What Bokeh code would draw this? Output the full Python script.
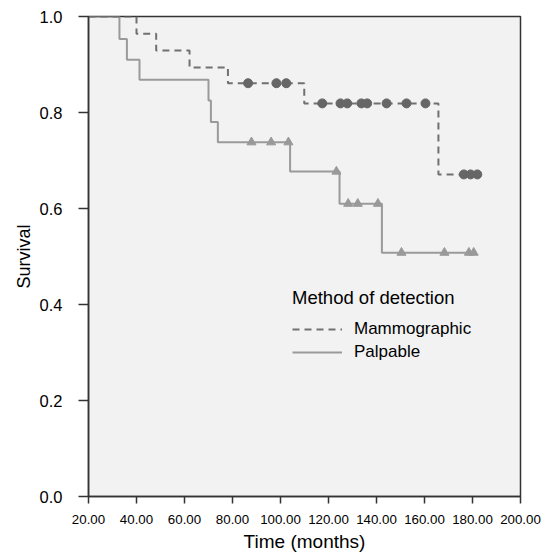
from bokeh.plotting import figure
from bokeh.models import (Range1d, FixedTicker, NumeralTickFormatter, Legend, LegendItem)
from bokeh.embed import file_html
from bokeh.resources import INLINE

# ---- data ----
mammo_event_times = [40.0, 48.2, 62.1, 78.1, 109.9, 165.8]
mammo_survival = [0.964, 0.929, 0.894, 0.861, 0.819, 0.671]
mammo_censor_times = [86.5, 98.3, 102.4, 117.4, 125.0, 127.8, 133.7, 136.1,
                      144.2, 152.5, 160.4, 176.4, 179.2, 182.0]

palp_event_times = [32.9, 36.0, 41.25, 70.0, 71.0, 73.9, 104.0, 124.6, 142.25]
palp_survival = [0.953, 0.910, 0.868, 0.825, 0.780, 0.738, 0.677, 0.610, 0.508]
palp_censor_times = [87.9, 96.1, 103.3, 123.3, 128.2, 132.2, 140.6, 150.4,
                     168.3, 178.5, 180.5]

x_ticks = [20, 40, 60, 80, 100, 120, 140, 160, 180, 200]
y_ticks = [0.0, 0.2, 0.4, 0.6, 0.8, 1.0]

FONT = "Liberation Sans"


def step_path(times, surv, censors):
    xs = [0.0]
    ys = [1.0]
    level = 1.0
    for t, s in zip(times, surv):
        xs += [t, t]
        ys += [level, s]
        level = s
    end = max(list(times) + list(censors))
    xs.append(end)
    ys.append(level)
    return xs, ys


def level_at(times, surv, t):
    level = 1.0
    for et, s in zip(times, surv):
        if et <= t:
            level = s
    return level


p = figure(frame_width=432, frame_height=480,
           x_range=Range1d(20, 200), y_range=Range1d(0, 1),
           output_backend="svg", toolbar_location=None,
           min_border_left=88, min_border_top=16, min_border_right=23,
           min_border_bottom=48)

p.background_fill_color = "#f2f2f2"
p.border_fill_color = "white"
p.outline_line_color = "#333333"
p.outline_line_width = 1.5
p.xgrid.visible = False
p.ygrid.visible = False

mx, my = step_path(mammo_event_times, mammo_survival, mammo_censor_times)
px, py = step_path(palp_event_times, palp_survival, palp_censor_times)

r_palp = p.line(px, py, line_color="#9a9a9a", line_width=2)
r_mammo = p.line(mx, my, line_color="#707070", line_width=2, line_dash="7 5")

mc_y = [level_at(mammo_event_times, mammo_survival, t) for t in mammo_censor_times]
pc_y = [level_at(palp_event_times, palp_survival, t) for t in palp_censor_times]

p.scatter(mammo_censor_times, mc_y, marker="circle", size=9,
          fill_color="#666666", line_color="#666666")
p.scatter(palp_censor_times, pc_y, marker="triangle", size=9,
          fill_color="#999999", line_color="#999999")

# axes
for ax in (p.xaxis[0], p.yaxis[0]):
    ax.axis_line_color = "#333333"
    ax.axis_line_width = 1.5
    ax.major_tick_line_color = "#333333"
    ax.major_tick_line_width = 1.5
    ax.major_tick_in = 0
    ax.minor_tick_line_color = None
    ax.major_label_text_font = FONT
    ax.axis_label_text_font = FONT
    ax.axis_label_text_font_style = "normal"
    ax.major_label_text_color = "black"
    ax.axis_label_text_color = "black"

p.xaxis.ticker = FixedTicker(ticks=x_ticks)
p.xaxis.formatter = NumeralTickFormatter(format="0.00")
p.xaxis.major_tick_out = 7
p.xaxis.major_label_text_font_size = "13.3px"
p.xaxis.major_label_standoff = 11
p.xaxis.axis_label = "Time (months)"
p.xaxis.axis_label_text_font_size = "19px"
p.xaxis.axis_label_standoff = 4

p.yaxis.ticker = FixedTicker(ticks=y_ticks)
p.yaxis.formatter = NumeralTickFormatter(format="0.0")
p.yaxis.major_tick_out = 10
p.yaxis.major_label_text_font_size = "16.5px"
p.yaxis.major_label_standoff = 16
p.yaxis.axis_label = "Survival"
p.yaxis.axis_label_text_font_size = "18px"
p.yaxis.axis_label_standoff = 3

legend = Legend(items=[LegendItem(label="Mammographic", renderers=[r_mammo]),
                       LegendItem(label="Palpable", renderers=[r_palp])],
                location=(204, 134),
                title="Method of detection",
                title_text_font=FONT, title_text_font_size="18.5px",
                title_text_font_style="normal", title_standoff=10,
                title_text_color="black",
                label_text_font=FONT, label_text_font_size="17px",
                label_text_color="black",
                glyph_width=50, label_standoff=12,
                padding=0, margin=0, spacing=3,
                border_line_color=None, background_fill_alpha=0)
p.add_layout(legend)

open("out.html", "w").write(file_html(p, INLINE))
